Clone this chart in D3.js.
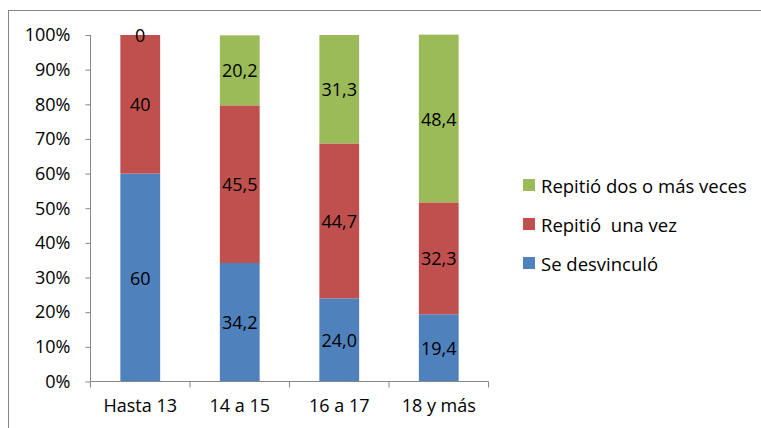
<!DOCTYPE html>
<html>
<head>
<meta charset="utf-8">
<script src="https://cdn.jsdelivr.net/npm/d3@7"></script>
<style>
html,body{margin:0;padding:0;background:#fff;}
svg{display:block;font-family:"Open Sans",sans-serif;}
</style>
</head>
<body>
<svg id="chart" width="761" height="428"></svg>
<script>
const categories = ["Hasta 13", "14 a 15", "16 a 17", "18 y más"];
const seriesNames = ["Se desvinculó", "Repitió  una vez", "Repitió dos o más veces"];
const desvinculo = [60, 34.2, 24.0, 19.4];
const repitioUna = [40, 45.5, 44.7, 32.3];
const repitioDos = [0, 20.2, 31.3, 48.4];
const labelDesvinculo = ["60", "34,2", "24,0", "19,4"];
const labelRepitioUna = ["40", "45,5", "44,7", "32,3"];
const labelRepitioDos = ["0", "20,2", "31,3", "48,4"];
const yTicks = [0, 10, 20, 30, 40, 50, 60, 70, 80, 90, 100];
const colors = ["#4F81BD", "#C0504D", "#9BBB59"];

const values = [desvinculo, repitioUna, repitioDos];
const labels = [labelDesvinculo, labelRepitioUna, labelRepitioDos];

const svg = d3.select("#chart");
const axisColor = "#868686";
const fs = 18;

// outer chart border
svg.append("rect")
  .attr("x", 8.5).attr("y", 10.5)
  .attr("width", 800).attr("height", 500)
  .attr("fill", "none").attr("stroke", axisColor).attr("stroke-width", 1);

const x = d3.scaleBand().domain(categories).range([90.5, 488.5])
  .paddingInner(0.6).paddingOuter(0.3);
const y = d3.scaleLinear().domain([0, 100]).range([381.5, 35]);

// stacked data
const rows = categories.map((c, i) => {
  const o = {cat: c};
  seriesNames.forEach((s, k) => { o[s] = values[k][i]; });
  return o;
});
const stack = d3.stack().keys(seriesNames)(rows);

const g = svg.append("g");
stack.forEach((layer, k) => {
  g.selectAll(null).data(layer).enter().append("rect")
    .attr("x", d => x(d.data.cat))
    .attr("width", x.bandwidth())
    .attr("y", d => y(d[1]))
    .attr("height", d => y(d[0]) - y(d[1]))
    .attr("fill", colors[k]);
});

// axes
const yAxis = d3.axisLeft(y).tickValues(yTicks).tickFormat(d => d + "%").tickSize(5).tickPadding(15);
const ya = svg.append("g").attr("transform", "translate(90.5,0)").call(yAxis);
ya.selectAll("line, path").attr("stroke", axisColor);
ya.select(".domain").attr("d", "M0," + y(100) + "V" + y(0));
ya.selectAll("text").attr("font-size", fs).attr("fill", "#000").attr("font-family", "Open Sans");

const xAxis = d3.axisBottom(x).tickSize(0).tickPadding(15);
const xa = svg.append("g").attr("transform", "translate(0," + y(0) + ")").call(xAxis);
xa.select(".domain").attr("d", "M90.5,0H488.5").attr("stroke", axisColor);
xa.selectAll("text").attr("font-size", fs).attr("fill", "#000").attr("font-family", "Open Sans").attr("dy", "0.85em");
// category boundary ticks
const edges = [90.5].concat(categories.map((c, i) => 90.5 + x.step() * (i + 1)));
xa.selectAll(".bt").data(edges).enter().append("line")
  .attr("x1", d => d).attr("x2", d => d).attr("y1", 0).attr("y2", 6)
  .attr("stroke", axisColor);

// data labels
stack.forEach((layer, k) => {
  svg.selectAll(null).data(layer).enter().append("text")
    .attr("x", d => x(d.data.cat) + x.bandwidth() / 2)
    .attr("y", d => (y(d[0]) + y(d[1])) / 2)
    .attr("text-anchor", "middle")
    .attr("dominant-baseline", "central")
    .attr("font-size", fs)
    .attr("fill", "#000")
    .text((d, i) => labels[k][i]);
});

// legend
const legendOrder = [2, 1, 0];
const leg = svg.append("g");
legendOrder.forEach((k, j) => {
  const cy = 185 + j * 39;
  leg.append("rect").attr("x", 523).attr("y", cy - 6).attr("width", 12).attr("height", 12).attr("fill", colors[k]);
  leg.append("text").attr("x", 541).attr("y", cy).attr("dominant-baseline", "central")
    .attr("font-size", 18.5).attr("fill", "#000").style("white-space", "pre")
    .text(seriesNames[k]);
});
</script>
</body>
</html>
